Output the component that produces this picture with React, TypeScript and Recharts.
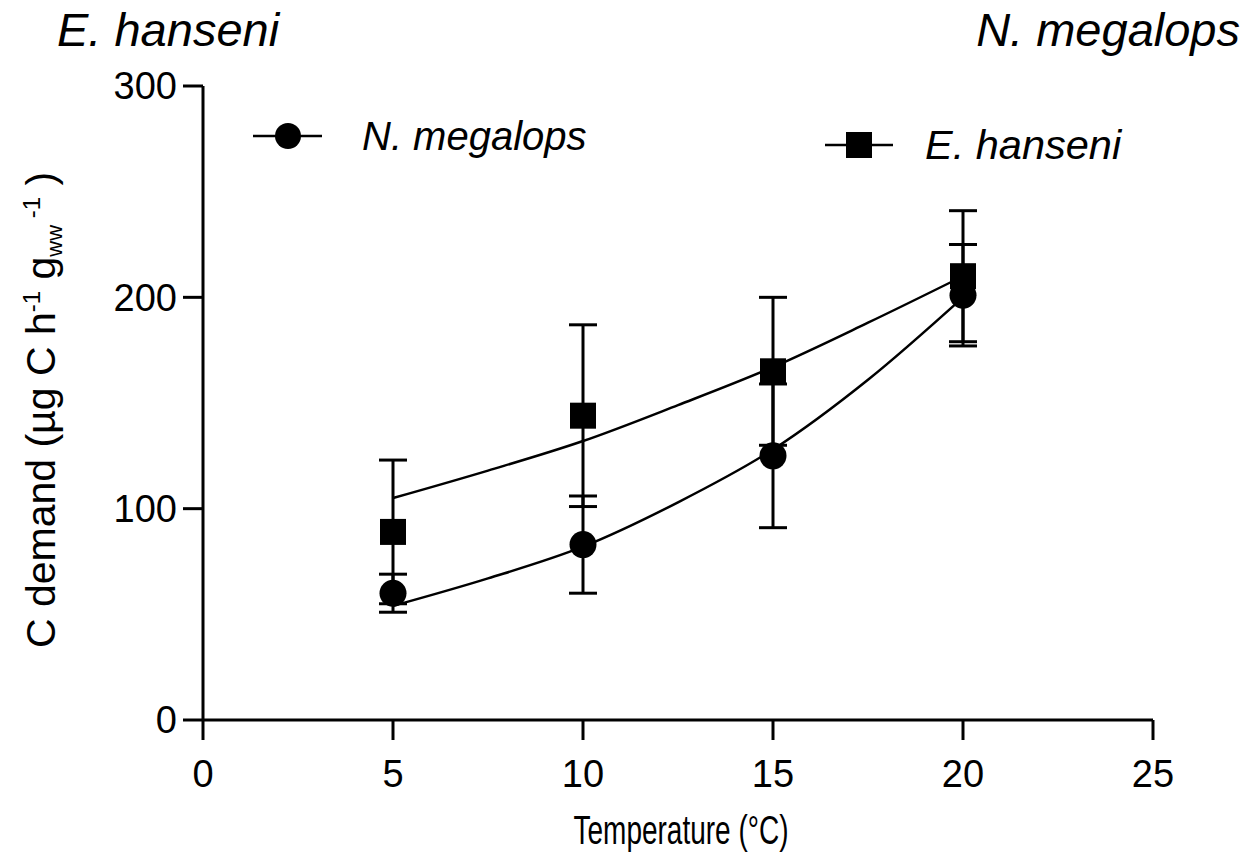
import React from "react";
import {
  ComposedChart, Line, Scatter, ErrorBar, XAxis, YAxis,
} from "recharts";

const temps = [5, 10, 15, 20];
const megalopsMean = [60, 83, 125, 201];
const megalopsErr = [9, 23, 34, 24];
const hanseniMean = [89, 144, 165, 210];
const hanseniErr = [34, 43, 35, 31];

// fitted curves, read at a few temperatures
const fitTemps = [5, 7.5, 10, 12.5, 15, 17.5, 20];
const megalopsFit = [54, 67, 82, 103, 128, 161, 200];
const hanseniFit = [105, 118, 132, 149, 167, 188, 210];

const xTicks = [0, 5, 10, 15, 20, 25];
const yTicks = [0, 100, 200, 300];

const FONT = "'Liberation Sans', Arial, sans-serif";

const megalopsPts = temps.map((t, i) => ({ x: t, y: megalopsMean[i], err: megalopsErr[i] }));
const hanseniPts = temps.map((t, i) => ({ x: t, y: hanseniMean[i], err: hanseniErr[i] }));
const megalopsLine = fitTemps.map((t, i) => ({ x: t, y: megalopsFit[i] }));
const hanseniLine = fitTemps.map((t, i) => ({ x: t, y: hanseniFit[i] }));

const Circle = (p: any) => <circle cx={p.cx} cy={p.cy} r={13.5} fill="#000" />;
const Square = (p: any) => <rect x={p.cx - 13} y={p.cy - 13} width={26} height={26} fill="#000" />;

const YLabel = () => (
  <text
    transform="translate(55,410) rotate(-90)"
    textAnchor="middle"
    fontSize={41}
    fontFamily={FONT}
    fill="#000"
  >
    C demand (µg C h
    <tspan dy={-15} fontSize={24}>-1</tspan>
    <tspan dy={15}>{"\u00a0g"}</tspan>
    <tspan dy={7} fontSize={22}>ww</tspan>
    <tspan dy={-22} fontSize={24}>{"\u00a0-1"}</tspan>
    <tspan dy={15}>{"\u00a0)"}</tspan>
  </text>
);

const XLabel = () => (
  <text x={681} y={844} textAnchor="middle" fontSize={41} fontFamily={FONT} fill="#000"
    textLength={215} lengthAdjust="spacingAndGlyphs">
    Temperature (°C)
  </text>
);

export default function App() {
  const axis = { stroke: "#000", strokeWidth: 3 };
  const tick = { fontSize: 38, fill: "#000", fontFamily: FONT };
  return (
    <div style={{ position: "absolute", left: 0, top: 0, width: 1249, height: 856, background: "#fff" }}>
      <ComposedChart width={1249} height={856} margin={{ top: 86, right: 96, bottom: 0, left: 0 }}>
        <XAxis
          dataKey="x"
          type="number"
          domain={[0, 25]}
          ticks={xTicks}
          allowDataOverflow
          height={136}
          axisLine={axis}
          tickLine={axis}
          tickSize={20}
          tickMargin={20}
          tick={tick}
          label={<XLabel />}
        />
        <YAxis
          dataKey="y"
          type="number"
          domain={[0, 300]}
          ticks={yTicks}
          width={203}
          axisLine={axis}
          tickLine={axis}
          tickSize={20}
          tickMargin={6}
          tick={tick}
          label={<YLabel />}
        />

        <Line data={hanseniLine} dataKey="y" type="monotone" stroke="#000" strokeWidth={2.5}
          dot={false} isAnimationActive={false} />
        <Line data={megalopsLine} dataKey="y" type="monotone" stroke="#000" strokeWidth={2.5}
          dot={false} isAnimationActive={false} />

        <Scatter data={hanseniPts} dataKey="y" shape={<Square />} isAnimationActive={false}>
          <ErrorBar dataKey="err" direction="y" width={14} strokeWidth={3} stroke="#000" />
        </Scatter>
        <Scatter data={megalopsPts} dataKey="y" shape={<Circle />} isAnimationActive={false}>
          <ErrorBar dataKey="err" direction="y" width={14} strokeWidth={3} stroke="#000" />
        </Scatter>
      </ComposedChart>

      <svg width={1249} height={856} style={{ position: "absolute", left: 0, top: 0, pointerEvents: "none" }}>
        <g fontFamily={FONT} fontStyle="italic" fill="#000">
          <text x={57} y={46} fontSize={47}>E. hanseni</text>
          <text x={1240} y={46} fontSize={47} textAnchor="end">N. megalops</text>

          <line x1={253} x2={322} y1={136} y2={136} stroke="#000" strokeWidth={2.5} />
          <circle cx={288} cy={136} r={13} fill="#000" />
          <text x={362} y={150} fontSize={40}>N. megalops</text>

          <line x1={825} x2={893} y1={145} y2={145} stroke="#000" strokeWidth={2.5} />
          <rect x={846} y={132} width={26} height={26} fill="#000" />
          <text x={925} y={159} fontSize={41.5}>E. hanseni</text>
        </g>
      </svg>
    </div>
  );
}
